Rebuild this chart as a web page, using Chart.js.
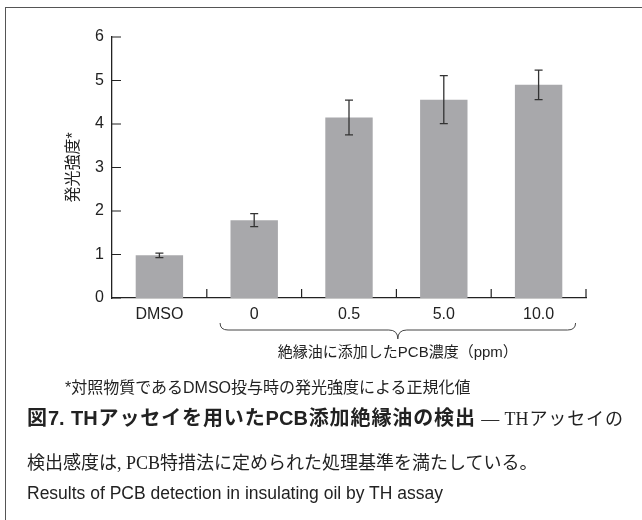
<!DOCTYPE html>
<html>
<head>
<meta charset="utf-8">
<script src="https://cdn.jsdelivr.net/npm/chart.js@4.4.1/dist/chart.umd.min.js"></script>
<style>
  body { margin: 0; background: #fff; }
  #wrap { position: relative; width: 642px; height: 520px; overflow: hidden; background: #fff;
          font-family: "Liberation Sans", Arial, "Noto Sans CJK JP", sans-serif; color: #222; }
  #frame { position: absolute; left: 5px; top: 7px; width: 700px; height: 600px;
           border-top: 1.5px solid #555; border-left: 1.5px solid #555; }
  #myChart { position: absolute; left: 0; top: 0; }
  .txt { position: absolute; white-space: nowrap; }
  #note { left: 65px; top: 378px; font-size: 16px; line-height: 20px; }
  #cap1 { left: 27px; top: 406px; width: 596px; font-size: 19px; line-height: 24px;
          text-align: justify; text-align-last: justify; }
  #cap1 b { font-family: "Liberation Sans", "Noto Sans CJK JP", sans-serif; font-weight: bold; font-size: 20px; }
  #cap1 span, #cap2 { font-family: "Liberation Serif", "DejaVu Serif", "Noto Sans CJK JP", serif; }
  #cap1 span { font-size: 18px; }
  #cap2 { left: 27px; top: 452px; font-size: 18px; line-height: 22px; }
  #cap3 { left: 27px; top: 483px; font-size: 17.5px; line-height: 20px; }
</style>
</head>
<body>
<div id="wrap">
  <div id="frame"></div>
  <canvas id="myChart" width="642" height="520"></canvas>
  <div class="txt" id="note">*対照物質であるDMSO投与時の発光強度による正規化値</div>
  <div class="txt" id="cap1"><b>図7. THアッセイを用いたPCB添加絶縁油の検出</b><span> — THアッセイの</span></div>
  <div class="txt" id="cap2">検出感度は, PCB特措法に定められた処理基準を満たしている。</div>
  <div class="txt" id="cap3">Results of PCB detection in insulating oil by TH assay</div>
</div>
<script>
var categories = ['DMSO', '0', '0.5', '5.0', '10.0'];
var intensity = [0.98, 1.79, 4.15, 4.56, 4.90];
var errors = [0.05, 0.15, 0.40, 0.55, 0.34];
var yTicks = [0, 1, 2, 3, 4, 5, 6];
var groupLabel = '絶縁油に添加したPCB濃度（ppm）';

var fontStack = '"Liberation Sans", Arial, "Noto Sans CJK JP", sans-serif';

// error bars, inward tick marks and the brace under the PCB groups
var extras = {
  id: 'extras',
  afterDatasetsDraw: function(chart) {
    var ctx = chart.ctx;
    var x = chart.scales.x, y = chart.scales.y;
    ctx.save();
    ctx.strokeStyle = '#333';
    ctx.lineWidth = 1.3;
    ctx.beginPath();
    intensity.forEach(function(v, i) {
      var px = x.getPixelForValue(i);
      var top = y.getPixelForValue(v + errors[i]);
      var bot = y.getPixelForValue(v - errors[i]);
      ctx.moveTo(px, top); ctx.lineTo(px, bot);
      ctx.moveTo(px - 4, top); ctx.lineTo(px + 4, top);
      ctx.moveTo(px - 4, bot); ctx.lineTo(px + 4, bot);
    });
    ctx.stroke();

    ctx.strokeStyle = '#222';
    ctx.lineWidth = 1.2;
    ctx.beginPath();
    yTicks.forEach(function(t) {
      var py = y.getPixelForValue(t);
      ctx.moveTo(y.right, py); ctx.lineTo(y.right + 9, py);
    });
    for (var i = 0; i < categories.length; i++) {
      var bx = x.getPixelForValue(i + 0.5);
      ctx.moveTo(bx, x.top); ctx.lineTo(bx, x.top - 9);
    }
    ctx.stroke();

    // brace
    var xl = x.getPixelForValue(1 - 0.36);
    var xr = x.getPixelForValue(4 + 0.39);
    var xc = (xl + xr) / 2;
    var y0 = x.top + 25, y1 = x.top + 32, y2 = x.top + 41;
    ctx.strokeStyle = '#444';
    ctx.lineWidth = 1;
    ctx.beginPath();
    ctx.moveTo(xl, y0);
    ctx.quadraticCurveTo(xl, y1, xl + 8, y1);
    ctx.lineTo(xc - 9, y1);
    ctx.quadraticCurveTo(xc, y1, xc, y2);
    ctx.quadraticCurveTo(xc, y1, xc + 9, y1);
    ctx.lineTo(xr - 8, y1);
    ctx.quadraticCurveTo(xr, y1, xr, y0);
    ctx.stroke();

    ctx.fillStyle = '#222';
    ctx.font = '15px ' + fontStack;
    ctx.textAlign = 'center';
    ctx.textBaseline = 'middle';
    ctx.fillText(groupLabel, xc, x.top + 55);
    ctx.restore();
  }
};

var ctx = document.getElementById('myChart').getContext('2d');
var myChart = new Chart(ctx, {
  type: 'bar',
  data: {
    labels: categories,
    datasets: [{
      data: intensity,
      backgroundColor: '#a8a8ab',
      barPercentage: 0.5,
      categoryPercentage: 1.0
    }]
  },
  options: {
    responsive: false,
    animation: false,
    devicePixelRatio: 1,
    layout: { padding: { left: 0, top: 37, right: 56, bottom: 0 } },
    plugins: {
      legend: { display: false },
      tooltip: { enabled: false }
    },
    scales: {
      x: {
        grid: { display: false, drawTicks: false },
        border: { display: true, color: '#222', width: 1.3 },
        ticks: { color: '#222', padding: 7, font: { family: fontStack, size: 16 } },
        afterFit: function(s) { s.height = 222; }
      },
      y: {
        min: 0,
        max: 6,
        grid: { display: false, drawTicks: false },
        border: { display: true, color: '#222', width: 1.3 },
        ticks: { color: '#222', padding: 8, font: { family: fontStack, size: 16 } },
        afterBuildTicks: function(s) { s.ticks = yTicks.map(function(v) { return { value: v }; }); },
        afterFit: function(s) { s.width = 112; },
        title: {
          display: true,
          text: '発光強度*',
          color: '#222',
          padding: { top: 64, bottom: 0 },
          font: { family: fontStack, size: 16 }
        }
      }
    }
  },
  plugins: [extras]
});
</script>
</body>
</html>
